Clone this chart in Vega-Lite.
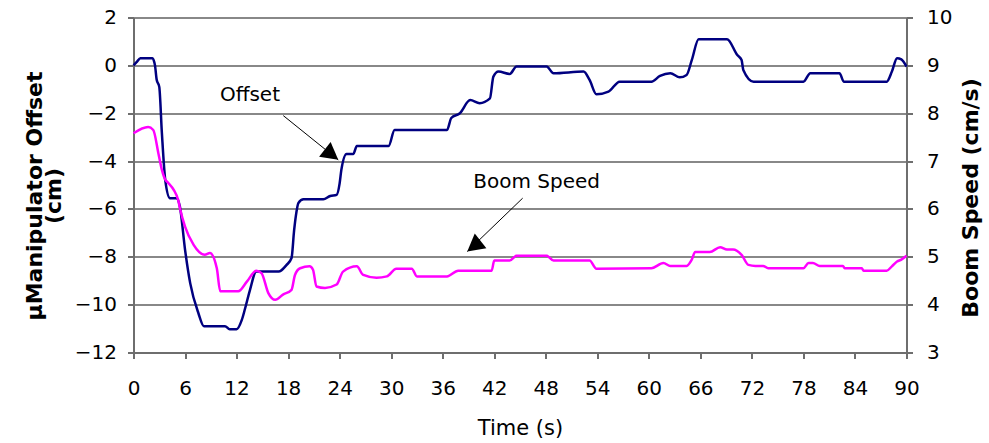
{
  "$schema": "https://vega.github.io/schema/vega-lite/v6.json",
  "width": 773,
  "height": 335,
  "autosize": {"type": "none"},
  "padding": {"left": 133.5, "top": 17.5, "right": 82.3, "bottom": 90.3},
  "background": "white",
  "config": {
    "view": {"stroke": null},
    "font": "DejaVu Sans",
    "axis": {
      "labelFont": "DejaVu Sans",
      "labelFontSize": 20,
      "labelColor": "black",
      "labelFlush": false,
      "titleFont": "DejaVu Sans",
      "titleColor": "black",
      "domainColor": "#6e6e6e",
      "domainWidth": 2,
      "tickColor": "#6e6e6e",
      "tickWidth": 2,
      "tickSize": 6,
      "gridColor": "#888888",
      "gridWidth": 2
    }
  },
  "datasets": {
    "offset": [
      {"t": 0, "v": 0.0}, {"t": 0.4, "v": 0.15}, {"t": 0.8, "v": 0.3}, {"t": 2.2, "v": 0.3},
      {"t": 2.5, "v": 0.0}, {"t": 2.7, "v": -0.6}, {"t": 3.0, "v": -0.9}, {"t": 3.3, "v": -2.8},
      {"t": 3.7, "v": -4.8}, {"t": 4.25, "v": -5.55}, {"t": 5.0, "v": -5.55}, {"t": 5.4, "v": -5.9},
      {"t": 6.0, "v": -7.7}, {"t": 6.6, "v": -9.1}, {"t": 7.55, "v": -10.35}, {"t": 8.2, "v": -10.9},
      {"t": 10.65, "v": -10.9}, {"t": 11.2, "v": -11.03}, {"t": 12.0, "v": -11.03}, {"t": 12.6, "v": -10.65},
      {"t": 13.0, "v": -10.15}, {"t": 13.55, "v": -9.4}, {"t": 14.3, "v": -8.62}, {"t": 16.9, "v": -8.62},
      {"t": 17.8, "v": -8.35}, {"t": 18.4, "v": -8.05}, {"t": 18.7, "v": -6.9}, {"t": 18.9, "v": -6.3},
      {"t": 19.2, "v": -5.75}, {"t": 19.8, "v": -5.6}, {"t": 22.1, "v": -5.6}, {"t": 22.9, "v": -5.46},
      {"t": 23.65, "v": -5.41}, {"t": 24.0, "v": -4.93}, {"t": 24.2, "v": -4.37}, {"t": 24.8, "v": -3.7},
      {"t": 25.6, "v": -3.7}, {"t": 26.0, "v": -3.37}, {"t": 29.7, "v": -3.37}, {"t": 30.4, "v": -2.7},
      {"t": 36.5, "v": -2.7}, {"t": 37.0, "v": -2.2}, {"t": 38.0, "v": -2.0}, {"t": 39.2, "v": -1.45},
      {"t": 40.3, "v": -1.58}, {"t": 41.5, "v": -1.38}, {"t": 41.9, "v": -0.47}, {"t": 42.5, "v": -0.26},
      {"t": 43.8, "v": -0.36}, {"t": 44.6, "v": -0.05}, {"t": 48.1, "v": -0.05}, {"t": 48.9, "v": -0.33},
      {"t": 52.4, "v": -0.26}, {"t": 53.1, "v": -0.61}, {"t": 53.9, "v": -1.21}, {"t": 55.3, "v": -1.1},
      {"t": 56.6, "v": -0.68}, {"t": 60.3, "v": -0.68}, {"t": 61.3, "v": -0.44}, {"t": 62.5, "v": -0.33},
      {"t": 63.6, "v": -0.5}, {"t": 64.4, "v": -0.4}, {"t": 65.0, "v": 0.22}, {"t": 65.8, "v": 1.09},
      {"t": 69.1, "v": 1.09}, {"t": 70.3, "v": 0.43}, {"t": 70.8, "v": 0.22}, {"t": 71.0, "v": -0.19},
      {"t": 72.2, "v": -0.68}, {"t": 78.0, "v": -0.68}, {"t": 78.8, "v": -0.33}, {"t": 82.2, "v": -0.33},
      {"t": 82.7, "v": -0.68}, {"t": 87.7, "v": -0.68}, {"t": 88.3, "v": -0.26}, {"t": 88.9, "v": 0.3},
      {"t": 89.4, "v": 0.25}, {"t": 90, "v": -0.05}
    ],
    "boom": [
      {"t": 0, "s": 7.58}, {"t": 1.7, "s": 7.71}, {"t": 2.3, "s": 7.65}, {"t": 2.9, "s": 7.16},
      {"t": 3.3, "s": 6.82}, {"t": 3.7, "s": 6.61}, {"t": 3.9, "s": 6.57}, {"t": 5.2, "s": 6.19},
      {"t": 5.4, "s": 6.02}, {"t": 6.0, "s": 5.63}, {"t": 7.0, "s": 5.25}, {"t": 8.3, "s": 5.04},
      {"t": 8.9, "s": 5.08}, {"t": 9.7, "s": 4.76}, {"t": 10.1, "s": 4.28}, {"t": 12.2, "s": 4.28},
      {"t": 13.2, "s": 4.48}, {"t": 14.3, "s": 4.71}, {"t": 14.9, "s": 4.66}, {"t": 15.7, "s": 4.24},
      {"t": 16.5, "s": 4.1}, {"t": 17.4, "s": 4.21}, {"t": 18.4, "s": 4.31}, {"t": 18.8, "s": 4.62},
      {"t": 19.4, "s": 4.76}, {"t": 20.5, "s": 4.8}, {"t": 20.9, "s": 4.73}, {"t": 21.3, "s": 4.38},
      {"t": 22.3, "s": 4.35}, {"t": 23.65, "s": 4.42}, {"t": 24.4, "s": 4.69}, {"t": 26.0, "s": 4.8},
      {"t": 26.75, "s": 4.62}, {"t": 28.3, "s": 4.56}, {"t": 29.5, "s": 4.59}, {"t": 30.6, "s": 4.75},
      {"t": 32.4, "s": 4.75}, {"t": 33.0, "s": 4.59}, {"t": 36.5, "s": 4.59}, {"t": 37.8, "s": 4.71},
      {"t": 41.7, "s": 4.71}, {"t": 42.0, "s": 4.92}, {"t": 43.8, "s": 4.92}, {"t": 44.6, "s": 5.02},
      {"t": 48.1, "s": 5.02}, {"t": 48.9, "s": 4.92}, {"t": 53.1, "s": 4.92}, {"t": 53.9, "s": 4.75},
      {"t": 60.3, "s": 4.76}, {"t": 61.7, "s": 4.87}, {"t": 62.5, "s": 4.81}, {"t": 64.4, "s": 4.81},
      {"t": 65.0, "s": 4.94}, {"t": 65.4, "s": 5.1}, {"t": 67.1, "s": 5.1}, {"t": 68.3, "s": 5.2},
      {"t": 69.1, "s": 5.15}, {"t": 69.8, "s": 5.15}, {"t": 70.8, "s": 5.04}, {"t": 71.6, "s": 4.83},
      {"t": 72.4, "s": 4.81}, {"t": 73.3, "s": 4.81}, {"t": 73.9, "s": 4.76}, {"t": 78.0, "s": 4.76},
      {"t": 78.6, "s": 4.87}, {"t": 79.1, "s": 4.87}, {"t": 79.9, "s": 4.81}, {"t": 82.6, "s": 4.81},
      {"t": 82.8, "s": 4.76}, {"t": 84.8, "s": 4.76}, {"t": 85.0, "s": 4.71}, {"t": 87.7, "s": 4.71},
      {"t": 88.3, "s": 4.8}, {"t": 88.9, "s": 4.9}, {"t": 89.4, "s": 4.94}, {"t": 90, "s": 5.02}
    ],
    "arrows": [
      {"name": "Offset", "t": 23.84, "v": -3.95, "t0": 17.44, "v0": -2.1},
      {"name": "Boom Speed", "t": 38.86, "v": -7.78, "t0": 45.31, "v0": -5.55}
    ],
    "labels": [
      {"label": "Offset", "t": 13.56, "v": -1.24},
      {"label": "Boom Speed", "t": 46.94, "v": -4.86}
    ]
  },
  "encoding": {
    "x": {
      "field": "t",
      "type": "quantitative",
      "scale": {"domain": [0, 90], "nice": false, "zero": false},
      "axis": {
        "values": [0, 6, 12, 18, 24, 30, 36, 42, 48, 54, 60, 66, 72, 78, 84, 90],
        "grid": false,
        "title": "Time (s)",
        "titleFontSize": 21,
        "titleFontWeight": "normal",
        "titleBaseline": "middle",
        "titleY": 76,
        "labelBaseline": "middle",
        "labelPadding": 30
      }
    }
  },
  "layer": [
    {
      "encoding": {
        "y": {
          "field": "v",
          "type": "quantitative",
          "scale": {"domain": [-12, 2], "nice": false, "zero": false},
          "axis": {
            "values": [-12, -10, -8, -6, -4, -2, 0, 2],
            "grid": true,
            "title": ["µManipulator Offset", "(cm)"],
            "titleFontSize": 22,
            "titleFontWeight": "bold",
            "titleAngle": -90,
            "titleAlign": "center",
            "titleBaseline": "middle",
            "titleLineHeight": 19,
            "titleX": -99,
            "titleY": 178,
            "labelPadding": 11
          }
        }
      },
      "layer": [
        {
          "data": {"name": "offset"},
          "mark": {"type": "line", "color": "#000080", "strokeWidth": 2.5, "interpolate": "monotone"}
        },
        {
          "data": {"name": "arrows"},
          "mark": {"type": "rule", "color": "black", "strokeWidth": 1},
          "encoding": {"x2": {"field": "t0"}, "y2": {"field": "v0"}}
        },
        {
          "data": {"name": "arrows"},
          "transform": [{"filter": "datum.name == 'Offset'"}],
          "mark": {"type": "point", "shape": "M0,0L-1,-0.55L-1,0.55Z", "filled": true, "color": "black", "opacity": 1, "size": 1156, "angle": 38}
        },
        {
          "data": {"name": "arrows"},
          "transform": [{"filter": "datum.name == 'Boom Speed'"}],
          "mark": {"type": "point", "shape": "M0,0L-1,-0.55L-1,0.55Z", "filled": true, "color": "black", "opacity": 1, "size": 1156, "angle": 141.5}
        },
        {
          "data": {"name": "labels"},
          "mark": {"type": "text", "font": "DejaVu Sans", "fontSize": 20, "color": "black"},
          "encoding": {"text": {"field": "label"}}
        }
      ]
    },
    {
      "data": {"name": "boom"},
      "mark": {"type": "line", "color": "#FF00FF", "strokeWidth": 2.5, "interpolate": "monotone"},
      "encoding": {
        "y": {
          "field": "s",
          "type": "quantitative",
          "scale": {"domain": [3, 10], "nice": false, "zero": false},
          "axis": {
            "orient": "right",
            "values": [3, 4, 5, 6, 7, 8, 9, 10],
            "grid": false,
            "title": "Boom Speed (cm/s)",
            "titleFontSize": 22,
            "titleFontWeight": "bold",
            "titleAngle": -90,
            "titleAlign": "center",
            "titleBaseline": "middle",
            "titleX": 64,
            "titleY": 180,
            "labelPadding": 14
          }
        }
      }
    }
  ],
  "resolve": {"scale": {"y": "independent"}, "axis": {"y": "independent"}}
}
